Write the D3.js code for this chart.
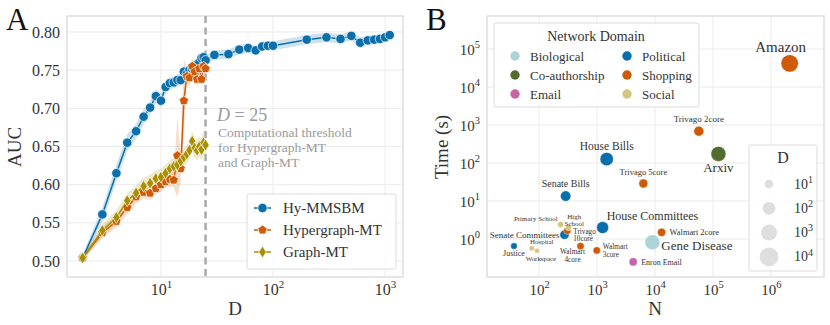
<!DOCTYPE html>
<html>
<head>
<meta charset="utf-8">
<script src="https://cdnjs.cloudflare.com/ajax/libs/d3/7.8.5/d3.min.js"></script>
<style>
  body { margin: 0; background: #fff; }
  svg, svg text { font-family: "Liberation Serif", "DejaVu Serif", serif; }
</style>
</head>
<body>
<svg id="chart" width="830" height="325"></svg>
<script>
// ---- panel A data ----
const dHy = [2, 3, 4, 5, 6, 7, 8, 9, 10, 11, 12, 13, 14, 15, 16, 17, 18, 19, 20, 21, 22, 23, 24, 25,
    30, 40, 50, 60, 70, 80, 90, 100, 200, 300, 400, 500, 600, 700, 800, 900, 1000, 1100];
const aucHy = [0.504, 0.561, 0.615, 0.655, 0.670, 0.689, 0.701, 0.716, 0.710, 0.728, 0.733, 0.734,
    0.737, 0.737, 0.748, 0.745, 0.750, 0.752, 0.755, 0.758, 0.760, 0.766, 0.767, 0.763,
    0.770, 0.771, 0.777, 0.779, 0.776, 0.781, 0.782, 0.782, 0.790, 0.793, 0.791, 0.795,
    0.786, 0.789, 0.790, 0.791, 0.793, 0.796];
const ciHy = [0.004, 0.010, 0.011, 0.011, 0.010, 0.010, 0.009, 0.009, 0.009, 0.008, 0.008, 0.008,
    0.008, 0.008, 0.008, 0.008, 0.007, 0.007, 0.007, 0.007, 0.007, 0.007, 0.007, 0.007,
    0.006, 0.006, 0.006, 0.006, 0.006, 0.006, 0.006, 0.006, 0.006, 0.006, 0.006, 0.006,
    0.007, 0.006, 0.006, 0.006, 0.006, 0.007];

const dMT = [2, 3, 4, 5, 6, 7, 8, 9, 10, 11, 12, 13, 14, 15, 16, 17, 18, 19, 20, 21, 22, 23, 24, 25];
const aucHyperMT = [0.504, 0.537, 0.552, 0.570, 0.584, 0.590, 0.589, 0.595, 0.600, 0.604, 0.607, 0.606,
    0.638, 0.621, 0.710, 0.742, 0.740, 0.755, 0.748, 0.738, 0.752, 0.738, 0.755, 0.752];
const loHyperMT = [0.501, 0.530, 0.544, 0.562, 0.575, 0.582, 0.580, 0.587, 0.591, 0.596, 0.598, 0.597,
    0.583, 0.603, 0.668, 0.732, 0.730, 0.744, 0.738, 0.728, 0.742, 0.728, 0.745, 0.744];
const hiHyperMT = [0.507, 0.545, 0.560, 0.578, 0.593, 0.598, 0.598, 0.603, 0.609, 0.613, 0.616, 0.617,
    0.689, 0.640, 0.766, 0.752, 0.750, 0.766, 0.758, 0.748, 0.762, 0.748, 0.764, 0.760];

const aucGraphMT = [0.504, 0.540, 0.557, 0.579, 0.589, 0.598, 0.602, 0.608, 0.610, 0.615, 0.621, 0.624,
    0.626, 0.631, 0.636, 0.640, 0.645, 0.657, 0.648, 0.645, 0.650, 0.646, 0.655, 0.652];
const ciGraphMT = [0.004, 0.008, 0.009, 0.010, 0.010, 0.011, 0.011, 0.011, 0.011, 0.011, 0.011, 0.011,
    0.011, 0.011, 0.012, 0.012, 0.012, 0.013, 0.013, 0.013, 0.013, 0.014, 0.016, 0.012];

const xTicksA = [10, 100, 1000];
const yTicksA = [0.50, 0.55, 0.60, 0.65, 0.70, 0.75, 0.80];
const threshold = 25;

// ---- panel B data ----
const domains = ['Biological', 'Co-authorship', 'Email', 'Political', 'Shopping', 'Social'];
const domainColors = ['#acd3d6', '#536c2e', '#c863a6', '#0a6ead', '#cf5a08', '#d6c581'];
const datasets = ['Amazon', 'Trivago 2core', 'Arxiv', 'House Bills', 'Senate Bills', 'Trivago 5core',
    'House Committees', 'Gene Disease', 'Walmart 2core', 'Enron Email', 'Walmart 3core', 'Walmart 4core',
    'Trivago 10core', 'Senate Committees', 'High School', 'Primary School', 'Justice', 'Hospital', 'Workspace'];
const datasetDomain = ['Shopping', 'Shopping', 'Co-authorship', 'Political', 'Political', 'Shopping',
    'Political', 'Biological', 'Shopping', 'Email', 'Shopping', 'Shopping',
    'Shopping', 'Political', 'Social', 'Social', 'Political', 'Social', 'Social'];
const nodesN = [2.1e6, 5.7e4, 1.24e5, 1470, 288, 6300, 1250, 9000, 1.3e4, 4200, 990, 520,
    307, 275, 320, 236, 37, 75, 92];
const timeS = [4.2e4, 690, 174, 127, 13.5, 29, 2.0, 0.82, 1.5, 0.25, 0.5, 0.65,
    1.65, 1.3, 2.0, 2.4, 0.65, 0.57, 0.49];
const maxD = [3300, 19, 460, 145, 24, 12, 59, 460, 9, 8, 6, 6, 6, 14, 4, 4, 4.6, 3, 3];
const sizeTicks = [10, 100, 1000, 10000];

const svg = d3.select('#chart');
const textColor = '#333';
const gridColor = '#ebebeb';
const frameColor = '#d6d6d6';

// superscript tick label: 10^k
const powLabel = (sel, baseSize, supSize) => {
    sel.each(function(d) {
        const t = d3.select(this);
        t.text(null);
        t.append('tspan').attr('font-size', baseSize).text('10');
        t.append('tspan').attr('font-size', supSize).attr('dy', -baseSize * 0.42)
            .text(Math.round(Math.log10(d)));
    });
};

// =========================== panel A ===========================
const xA = d3.scaleLog().domain([1.45, 1445]).range([67, 403]);
const yA = d3.scaleLinear().domain([0.479, 0.821]).range([277, 16]);
const gA = svg.append('g');

gA.append('g').selectAll('line.gx').data(xTicksA).enter().append('line')
    .attr('x1', d => xA(d)).attr('x2', d => xA(d)).attr('y1', 16).attr('y2', 277)
    .attr('stroke', gridColor).attr('stroke-width', 1);
gA.append('g').selectAll('line.gy').data(yTicksA).enter().append('line')
    .attr('x1', 67).attr('x2', 403).attr('y1', d => yA(d)).attr('y2', d => yA(d))
    .attr('stroke', gridColor).attr('stroke-width', 1);
gA.append('rect').attr('x', 67).attr('y', 16).attr('width', 336).attr('height', 261)
    .attr('fill', 'none').attr('stroke', frameColor).attr('stroke-width', 1.2);

// axes
const axLeftA = gA.append('g').attr('transform', 'translate(67,0)')
    .call(d3.axisLeft(yA).tickValues(yTicksA).tickSize(0).tickPadding(7).tickFormat(d3.format('.2f')))
    .attr('font-family', null);
axLeftA.select('.domain').remove();
axLeftA.selectAll('text').attr('font-size', 16).attr('fill', textColor);

const axBottomA = gA.append('g').attr('transform', 'translate(0,277)')
    .call(d3.axisBottom(xA).tickValues(xTicksA).tickSize(0).tickPadding(8))
    .attr('font-family', null);
axBottomA.select('.domain').remove();
axBottomA.selectAll('text').attr('fill', textColor).attr('dy', '0.95em')
    .call(powLabel, 16, 11);

gA.append('text').attr('transform', 'translate(21,147) rotate(-90)').attr('text-anchor', 'middle')
    .attr('font-size', 19).attr('fill', textColor).text('AUC');
gA.append('text').attr('x', 235).attr('y', 315).attr('text-anchor', 'middle')
    .attr('font-size', 19).attr('fill', textColor).text('D');
svg.append('text').attr('x', 6).attr('y', 30).attr('font-size', 31).attr('fill', '#111').text('A');

// series
const blue = '#0b6fab', orange = '#d05a06', gold = '#a88f00';
const series = [
    { name: 'Hy-MMSBM', color: blue, d: dHy, v: aucHy, lo: aucHy.map((v, i) => v - ciHy[i]), hi: aucHy.map((v, i) => v + ciHy[i]), marker: 'circle' },
    { name: 'Hypergraph-MT', color: orange, d: dMT, v: aucHyperMT, lo: loHyperMT, hi: hiHyperMT, marker: 'pentagon' },
    { name: 'Graph-MT', color: gold, d: dMT, v: aucGraphMT, lo: aucGraphMT.map((v, i) => v - ciGraphMT[i]), hi: aucGraphMT.map((v, i) => v + ciGraphMT[i]), marker: 'diamond' },
];

const markerPath = (type) => {
    if (type === 'pentagon') {
        const r = 4.9;
        const pts = d3.range(5).map(i => {
            const a = -Math.PI / 2 + i * 2 * Math.PI / 5;
            return [r * Math.cos(a), r * Math.sin(a)];
        });
        return 'M' + pts.map(p => p.join(',')).join('L') + 'Z';
    }
    if (type === 'diamond') {
        return 'M0,-6L3.7,0L0,6L-3.7,0Z';
    }
    return d3.symbol(d3.symbolCircle, Math.PI * 4.7 * 4.7)();
};

const area = d3.area()
    .x(d => xA(d.d)).y0(d => yA(d.lo)).y1(d => yA(d.hi));
const line = d3.line().x(d => xA(d.d)).y(d => yA(d.v));

series.forEach(s => {
    const pts = s.d.map((d, i) => ({ d, v: s.v[i], lo: s.lo[i], hi: s.hi[i] }));
    s.pts = pts;
    gA.append('path').datum(pts).attr('d', area).attr('fill', s.color).attr('fill-opacity', 0.2)
        .attr('stroke', 'none');
});

// threshold line
gA.append('line').attr('x1', xA(threshold)).attr('x2', xA(threshold)).attr('y1', 16).attr('y2', 277)
    .attr('stroke', '#a9a9a9').attr('stroke-width', 2.5).attr('stroke-dasharray', '7,4.5');

series.forEach(s => {
    gA.append('path').datum(s.pts).attr('d', line).attr('fill', 'none')
        .attr('stroke', s.color).attr('stroke-width', 1.5);
    gA.append('g').selectAll('path').data(s.pts).enter().append('path')
        .attr('transform', d => `translate(${xA(d.d)},${yA(d.v)})`)
        .attr('d', markerPath(s.marker))
        .attr('fill', s.color).attr('stroke', '#fff').attr('stroke-width', 0.7);
});

// annotation
const ann = gA.append('g').attr('fill', '#9a9a9a');
const t1 = ann.append('text').attr('x', 217).attr('y', 121).attr('font-size', 18);
t1.append('tspan').attr('font-style', 'italic').text('D');
t1.append('tspan').text(' = 25');
['Computational threshold', 'for Hypergraph-MT', 'and Graph-MT'].forEach((s, i) => {
    ann.append('text').attr('x', 218).attr('y', 136.5 + i * 15).attr('font-size', 13.5).text(s);
});

// legend A
const legA = gA.append('g');
legA.append('rect').attr('x', 247).attr('y', 194).attr('width', 149).attr('height', 75).attr('rx', 2)
    .attr('fill', '#fff').attr('fill-opacity', 0.85).attr('stroke', '#dcdcdc').attr('stroke-width', 1);
series.forEach((s, i) => {
    const y = 208 + i * 22;
    legA.append('line').attr('x1', 254).attr('x2', 271).attr('y1', y).attr('y2', y)
        .attr('stroke', s.color).attr('stroke-width', 1.5);
    legA.append('path').attr('transform', `translate(262.5,${y})`).attr('d', markerPath(s.marker))
        .attr('fill', s.color).attr('stroke', '#fff').attr('stroke-width', 0.7);
    legA.append('text').attr('x', 283).attr('y', y + 5).attr('font-size', 15).attr('fill', textColor).text(s.name);
});

// =========================== panel B ===========================
const xB = d3.scaleLog().domain([Math.pow(10, 1.103), Math.pow(10, 6.914)]).range([487, 824]);
const yB = d3.scaleLog().domain([0.1, Math.pow(10, 5.87)]).range([277, 16]);
const xTicksB = [1e2, 1e3, 1e4, 1e5, 1e6];
const yTicksB = [1e0, 1e1, 1e2, 1e3, 1e4, 1e5];
const gB = svg.append('g');

gB.append('g').selectAll('line').data(xTicksB).enter().append('line')
    .attr('x1', d => xB(d)).attr('x2', d => xB(d)).attr('y1', 16).attr('y2', 277)
    .attr('stroke', gridColor).attr('stroke-width', 1);
gB.append('g').selectAll('line').data(yTicksB).enter().append('line')
    .attr('x1', 487).attr('x2', 824).attr('y1', d => yB(d)).attr('y2', d => yB(d))
    .attr('stroke', gridColor).attr('stroke-width', 1);
gB.append('rect').attr('x', 487).attr('y', 16).attr('width', 337).attr('height', 261)
    .attr('fill', 'none').attr('stroke', frameColor).attr('stroke-width', 1.2);

const axLeftB = gB.append('g').attr('transform', 'translate(487,0)')
    .call(d3.axisLeft(yB).tickValues(yTicksB).tickSize(0).tickPadding(7))
    .attr('font-family', null);
axLeftB.select('.domain').remove();
axLeftB.selectAll('text').attr('fill', textColor).attr('dy', '0.5em')
    .call(powLabel, 15, 10.5);

const axBottomB = gB.append('g').attr('transform', 'translate(0,277)')
    .call(d3.axisBottom(xB).tickValues(xTicksB).tickSize(0).tickPadding(8))
    .attr('font-family', null);
axBottomB.select('.domain').remove();
axBottomB.selectAll('text').attr('fill', textColor).attr('dy', '0.95em')
    .call(powLabel, 15, 10.5);

gB.append('text').attr('transform', 'translate(448,147) rotate(-90)').attr('text-anchor', 'middle')
    .attr('font-size', 19).attr('fill', textColor).text('Time (s)');
gB.append('text').attr('x', 655).attr('y', 315).attr('text-anchor', 'middle')
    .attr('font-size', 19).attr('fill', textColor).text('N');
svg.append('text').attr('x', 426).attr('y', 30).attr('font-size', 31).attr('fill', '#111').text('B');

const color = d3.scaleOrdinal().domain(domains).range(domainColors);
const sizeArea = d3.scaleLinear().domain([1, 4]).range([18.5, 86.5]);
const radius = d => Math.sqrt(Math.max(4, sizeArea(Math.log10(d))));

const bubbles = datasets.map((name, i) => ({
    name, domain: datasetDomain[i], n: nodesN[i], t: timeS[i], D: maxD[i],
})).sort((a, b) => domains.indexOf(a.domain) - domains.indexOf(b.domain));

gB.append('g').selectAll('circle').data(bubbles).enter().append('circle')
    .attr('cx', d => xB(d.n)).attr('cy', d => yB(d.t)).attr('r', d => radius(d.D))
    .attr('fill', d => color(d.domain)).attr('stroke', '#fff').attr('stroke-width', 0.4);

// dataset labels: [dx, dy, anchor, size] relative to bubble centre
const labelPlace = {
    'Amazon': [-9, -11, 'middle', 15],
    'Trivago 2core': [0, -9, 'middle', 9],
    'Arxiv': [0, 18, 'middle', 13],
    'House Bills': [0, -9, 'middle', 11.5],
    'Senate Bills': [0, -9, 'middle', 10],
    'Trivago 5core': [0, -8, 'middle', 8.5],
    'House Committees': [4, -8, 'start', 12],
    'Gene Disease': [9, 8, 'start', 13],
    'Walmart 2core': [8, 3, 'start', 8.4],
    'Enron Email': [8, 3, 'start', 8],
    'Walmart 3core': [6, -1, 'start', 7.3],
    'Walmart 4core': [-8, 8, 'middle', 7.3],
    'Trivago 10core': [6, 3, 'start', 7.2],
    'Senate Committees': [-5, 3, 'end', 9],
    'High School': [6, -9, 'middle', 7],
    'Primary School': [-3, -4, 'end', 7],
    'Justice': [0, 10, 'middle', 8],
    'Hospital': [10, -4, 'middle', 6.9],
    'Workspace': [4, 10, 'middle', 6.9],
};
const twoLine = { 'Walmart 3core': ['Walmart', '3core'], 'Walmart 4core': ['Walmart', '4core'],
    'Trivago 10core': ['Trivago', '10core'], 'High School': ['High', 'School'] };

const labels = gB.append('g').attr('fill', textColor);
bubbles.forEach(b => {
    const p = labelPlace[b.name];
    const x = xB(b.n) + p[0], y = yB(b.t) + p[1];
    const t = labels.append('text').attr('x', x).attr('y', y).attr('text-anchor', p[2]).attr('font-size', p[3]);
    if (twoLine[b.name]) {
        t.append('tspan').attr('x', x).text(twoLine[b.name][0]);
        t.append('tspan').attr('x', x).attr('dy', p[3] * 1.05).text(twoLine[b.name][1]);
    } else {
        t.text(b.name);
    }
});

// domain legend
const legB = gB.append('g');
legB.append('rect').attr('x', 494).attr('y', 23).attr('width', 205).attr('height', 84).attr('rx', 2)
    .attr('fill', '#fff').attr('fill-opacity', 0.85).attr('stroke', '#dcdcdc').attr('stroke-width', 1);
legB.append('text').attr('x', 596).attr('y', 41).attr('text-anchor', 'middle').attr('font-size', 14)
    .attr('fill', textColor).text('Network Domain');
domains.forEach((dm, i) => {
    const col = Math.floor(i / 3), row = i % 3;
    const cx = col === 0 ? 515 : 627, cy = 56 + row * 19;
    legB.append('circle').attr('cx', cx).attr('cy', cy).attr('r', 4.7).attr('fill', color(dm));
    legB.append('text').attr('x', cx + 15).attr('y', cy + 4.5).attr('font-size', 13)
        .attr('fill', textColor).text(dm);
});

// size legend
const legS = gB.append('g');
legS.append('rect').attr('x', 749).attr('y', 145).attr('width', 68).attr('height', 126).attr('rx', 2)
    .attr('fill', '#fff').attr('fill-opacity', 0.85).attr('stroke', '#dcdcdc').attr('stroke-width', 1);
legS.append('text').attr('x', 783).attr('y', 163).attr('text-anchor', 'middle').attr('font-size', 16)
    .attr('fill', textColor).text('D');
sizeTicks.forEach((d, i) => {
    const cy = 184 + i * 24.3;
    legS.append('circle').attr('cx', 769).attr('cy', cy).attr('r', radius(d)).attr('fill', '#dedede');
    legS.append('text').attr('x', 794).attr('y', cy + 4.5).attr('fill', textColor)
        .datum(d).call(powLabel, 14, 10);
});
</script>
</body>
</html>
